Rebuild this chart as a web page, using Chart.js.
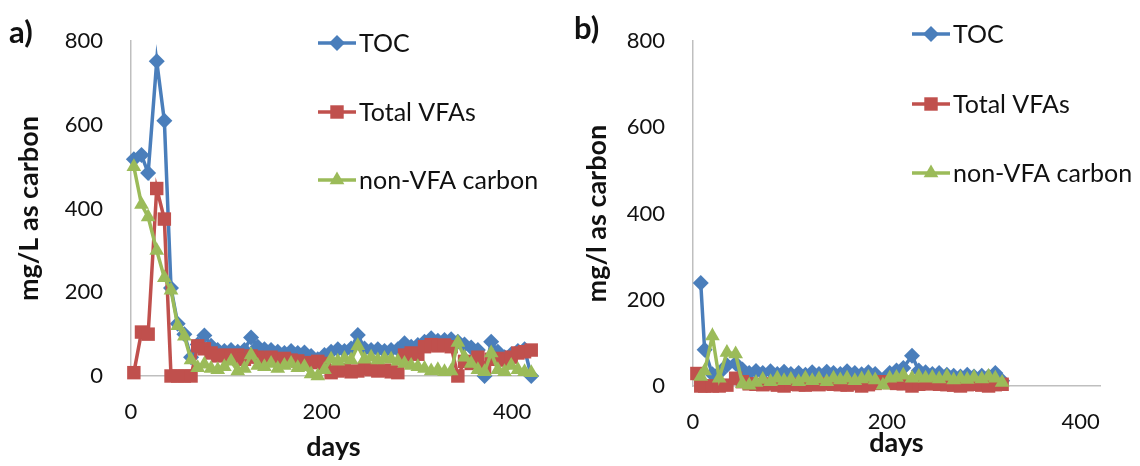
<!DOCTYPE html>
<html>
<head>
<meta charset="utf-8">
<script src="https://cdn.jsdelivr.net/npm/chart.js@4/dist/chart.umd.min.js"></script>
<style>
  body { margin: 0; background: #fff; width: 1140px; height: 466px; overflow: hidden; position: relative; font-family: Lato, sans-serif; }
  .panel { position: absolute; top: 0; width: 570px; height: 466px; }
  #wrap-a { left: 0; }
  #wrap-b { left: 570px; }
  .tag { position: absolute; font: bold 31px Lato, sans-serif; color: #111; }
</style>
</head>
<body>
<div class="panel" id="wrap-a"><canvas id="chart-a" width="570" height="466"></canvas></div>
<div class="panel" id="wrap-b"><canvas id="chart-b" width="570" height="466"></canvas></div>
<div class="tag" style="left:9px;top:12px">a)</div>
<div class="tag" style="left:574px;top:8px">b)</div>
<script>
// ─── Data ────────────────────────────────────────────────────────
const seriesNames = ['TOC', 'Total VFAs', 'non-VFA carbon'];
const yTicks = [0, 200, 400, 600, 800];
const xTicks = [0, 200, 400];

// panel a
const aDays = [3, 11, 18, 27, 35, 42, 49, 56, 63,
  70, 77, 84, 91, 98, 105, 112, 119, 126, 133,
  140, 147, 154, 161, 168, 175, 182, 189, 196, 203,
  210, 217, 224, 231, 238, 245, 252, 259, 266, 273,
  280, 287, 294, 301, 308, 315, 322, 329, 336, 343,
  350, 357, 364, 371, 378, 385, 392, 399, 406, 413, 420];
const aToc = [518, 528, 485, 752, 610, 210, 125, 100, 45,
  75, 97, 72, 62, 60, 62, 58, 62, 92, 70,
  64, 62, 58, 55, 60, 55, 56, 48, 40, 50,
  58, 64, 60, 66, 98, 66, 62, 64, 60, 62,
  64, 78, 70, 74, 82, 90, 84, 86, 88, 82,
  75, 68, 62, 0, 82, 58, 45, 52, 60, 64, 0];
const aVfa = [8, 105, 100, 448, 375, 0, 0, 0, 0,
  72, 65, 55, 48, 50, 45, 50, 40, 48, 45,
  42, 45, 40, 42, 38, 36, 30, 32, 35, 30,
  8, 12, 15, 10, 12, 18, 15, 12, 14, 10,
  8, 50, 55, 52, 70, 75, 72, 74, 70, 0,
  35, 30, 45, 20, 40, 42, 38, 45, 55, 58, 62];
const aNonVfa = [500, 410, 380, 300, 235, 205, 120, 95, 38,
  20, 28, 18, 15, 22, 35, 12, 18, 50, 25,
  22, 30, 18, 25, 30, 20, 22, 5, 0, 15,
  40, 35, 42, 38, 72, 40, 45, 38, 42, 40,
  35, 30, 25, 22, 18, 12, 15, 10, 12, 80,
  45, 30, 15, 10, 55, 15, 10, 25, 15, 10, 8];

// panel b
const bDays = [4, 8, 12, 20, 27, 35, 44, 51, 58,
  65, 72, 80, 87, 94, 101, 109, 116, 123, 130,
  138, 145, 152, 159, 167, 174, 181, 188, 196, 203,
  210, 217, 226, 233, 240, 247, 254, 262, 269, 276,
  283, 290, 298, 305, 312, 319];
const bToc = [null, 239, 84, 27, 30, 48, 52, 38, 30,
  35, 30, 34, 28, 33, 28, 30, 26, 32, 28,
  33, 30, 28, 34, 30, 27, 32, 28, 12, 30,
  36, 42, 70, 36, 32, 28, 30, 26, 24, 22,
  26, 22, 24, 22, 30, 12];
const bVfa = [29, 0, 0, 0, 0, 2, 18, 10, 5,
  4, 3, 5, 2, 0, 4, 3, 2, 4, 3,
  5, 4, 3, 2, 5, 0, 3, 6, 10, 8,
  6, 5, 0, 4, 5, 6, 4, 3, 2, 0,
  3, 4, 2, 0, 3, 4];
const bNonVfa = [null, 22, 35, 116, 18, 78, 74, 5, 2,
  8, 15, 10, 18, 12, 15, 10, 18, 12, 16,
  10, 18, 14, 18, 12, 16, 20, 14, 2, 18,
  20, 25, 18, 22, 18, 20, 16, 22, 14, 18,
  15, 20, 16, 22, 18, 8];

// ─── Styles ──────────────────────────────────────────────────────
const colors = ['#4a7ebb', '#c0504d', '#9bbb59'];
const markers = ['rectRot', 'rect', 'triangle'];
const radii = [8, 9.5, 8.5];
const fontFamily = 'Lato, sans-serif';

// legend drawn inside the plot area, like the Excel original
const insideLegend = {
  id: 'insideLegend',
  afterDraw(chart, args, opts) {
    const ctx = chart.ctx;
    ctx.save();
    chart.data.datasets.forEach((ds, i) => {
      const y = opts.rows[i];
      const x0 = opts.x, x1 = opts.x + opts.len;
      ctx.strokeStyle = ds.borderColor;
      ctx.lineWidth = 3.5;
      ctx.beginPath();
      ctx.moveTo(x0, y);
      ctx.lineTo(x1, y);
      ctx.stroke();
      ctx.fillStyle = ds.backgroundColor;
      Chart.helpers.drawPoint(ctx, { pointStyle: ds.pointStyle, radius: ds.pointRadius, rotation: 0, borderWidth: 0 }, (x0 + x1) / 2, y);
      ctx.fillStyle = '#111';
      ctx.font = '25px ' + fontFamily;
      ctx.textAlign = 'left';
      ctx.textBaseline = 'middle';
      ctx.fillText(ds.label, x1 + 3, y + 1);
    });
    ctx.restore();
  }
};

function makePanel(id, days, values, cfg) {
  const datasets = values.map((vals, i) => ({
    label: seriesNames[i],
    data: days.map((d, j) => ({ x: d, y: vals[j] })),
    borderColor: colors[i],
    backgroundColor: colors[i],
    borderWidth: 3.5,
    pointStyle: markers[i],
    pointRadius: radii[i],
    pointBorderWidth: 0,
    pointBackgroundColor: colors[i],
    spanGaps: true,
    clip: false,
    order: 3 - i
  }));

  return new Chart(document.getElementById(id), {
    type: 'line',
    data: { datasets },
    plugins: [insideLegend],
    options: {
      responsive: false,
      animation: false,
      layout: { padding: cfg.padding },
      plugins: {
        legend: { display: false },
        tooltip: { enabled: false },
        insideLegend: cfg.legend
      },
      scales: {
        x: {
          type: 'linear',
          min: 0,
          max: cfg.xMax,
          afterBuildTicks: s => { s.ticks = xTicks.map(v => ({ value: v })); },
          afterFit: s => { s.height = cfg.xHeight; },
          grid: { display: false, drawTicks: false },
          border: { color: '#bfbfbf', width: 1.5 },
          ticks: { padding: cfg.xTickPad, color: '#111', font: { family: fontFamily, size: 22 }, maxRotation: 0 },
          title: { display: true, text: 'days', color: '#111', padding: 0, font: { family: fontFamily, size: 27, weight: 'bold' } }
        },
        y: {
          min: 0,
          max: 800,
          afterBuildTicks: s => { s.ticks = yTicks.map(v => ({ value: v })); },
          afterFit: s => { s.width = cfg.yWidth; },
          grid: { display: false, drawTicks: false },
          border: { color: '#bfbfbf', width: 1.5 },
          ticks: { padding: cfg.yTickPad, color: '#111', font: { family: fontFamily, size: 22 } },
          title: { display: true, text: cfg.yTitle, color: '#111', padding: 0, font: { family: fontFamily, size: 27, weight: 'bold' } }
        }
      }
    }
  });
}

makePanel('chart-a', aDays, [aToc, aVfa, aNonVfa], {
  xMax: 425,
  padding: { left: 13, top: 24, right: 34, bottom: 3 },
  yWidth: 118,
  xHeight: 87,
  xTickPad: 23,
  yTickPad: 28,
  yTitle: 'mg/L as carbon',
  legend: { x: 318, len: 38, rows: [43, 112, 180] }
});

makePanel('chart-b', bDays, [bToc, bVfa, bNonVfa], {
  xMax: 420,
  padding: { left: 11, top: 25, right: 40, bottom: 7 },
  yWidth: 112,
  xHeight: 73,
  xTickPad: 23,
  yTickPad: 28,
  yTitle: 'mg/l as carbon',
  legend: { x: 342, len: 38, rows: [34, 104, 173] }
});
</script>
</body>
</html>
